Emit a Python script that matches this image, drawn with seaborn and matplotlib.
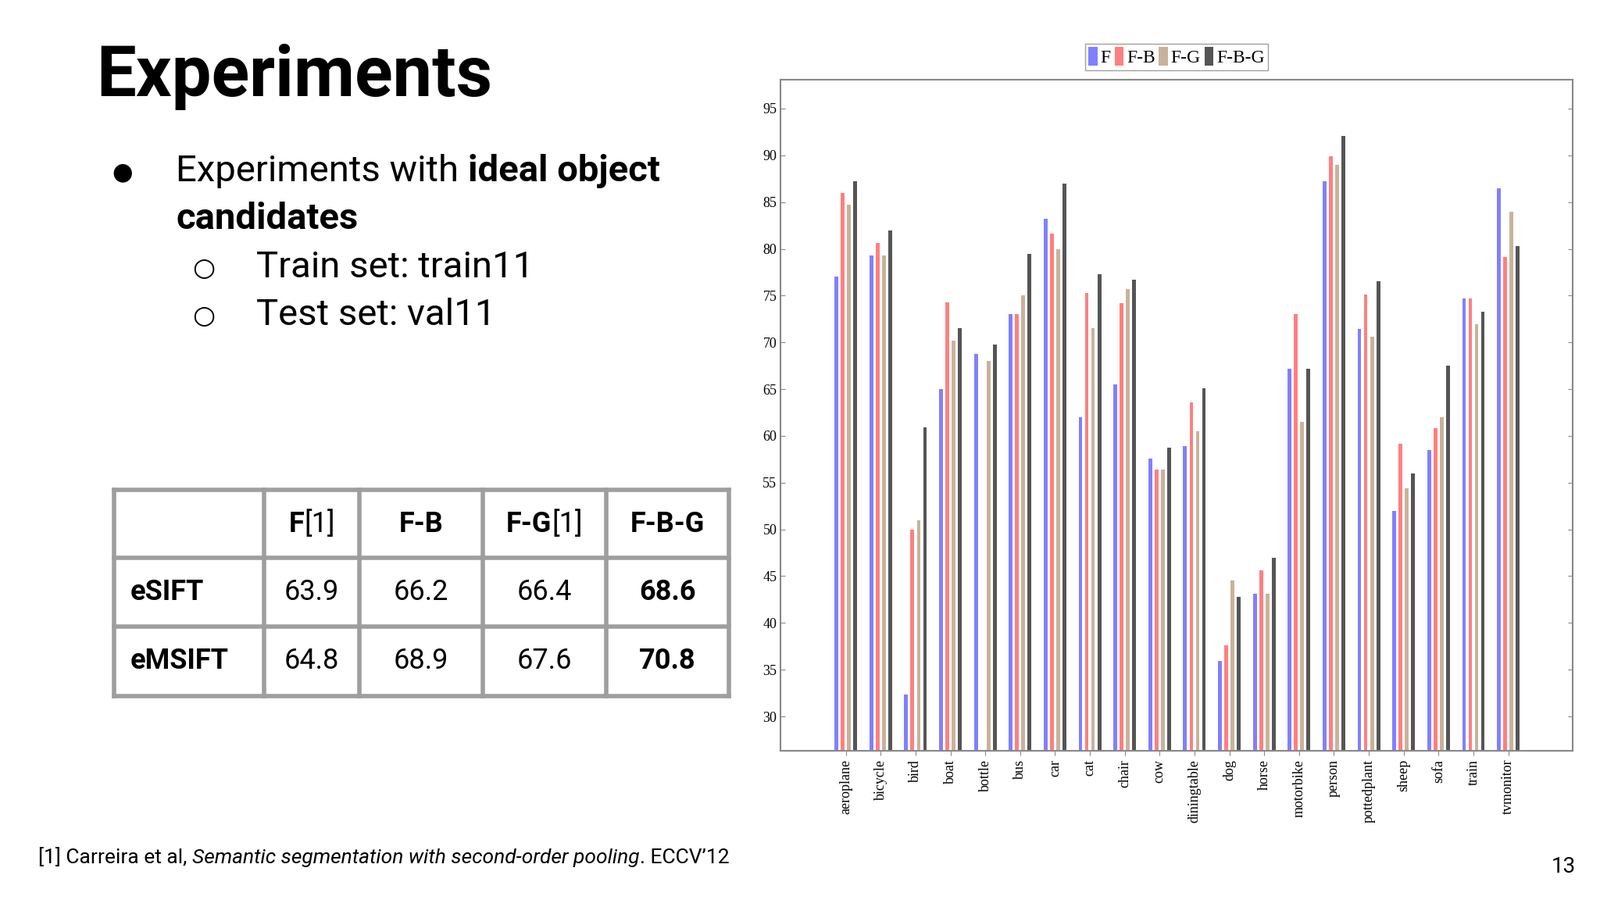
import numpy as np
import pandas as pd
import matplotlib
matplotlib.use("Agg")
import matplotlib.pyplot as plt
from matplotlib.transforms import offset_copy
import seaborn as sns

categories = ["aeroplane","bicycle","bird","boat","bottle","bus","car","cat","chair","cow",
              "diningtable","dog","horse","motorbike","person","pottedplant","sheep","sofa","train","tvmonitor"]
F   = [77.0,79.3,32.3,65.0,68.8,73.0,83.2,62.0,65.5,57.6,58.9,35.9,43.1,67.2,87.2,71.4,52.0,58.5,74.7,86.5]
FB  = [86.0,80.6,50.0,74.3,np.nan,73.0,81.6,75.3,74.2,56.4,63.6,37.6,45.6,73.0,89.9,75.1,59.2,60.8,74.7,79.1]
FG  = [84.7,79.3,51.0,70.2,68.0,75.0,80.0,71.5,75.7,56.4,60.5,44.5,43.1,61.5,89.0,70.6,54.4,62.0,71.9,84.0]
FBG = [87.2,82.0,60.9,71.5,69.8,79.5,87.0,77.3,76.7,58.7,65.1,42.8,47.0,67.2,92.1,76.5,56.0,67.5,73.3,80.3]
series = ["F","F-B","F-G","F-B-G"]
yticks = list(range(30, 100, 5))

table_cols = ["", "F[1]", "F-B", "F-G[1]", "F-B-G"]
table_rows = [["eSIFT", "63.9", "66.2", "66.4", "68.6"],
              ["eMSIFT", "64.8", "68.9", "67.6", "70.8"]]

df = pd.DataFrame({"category": categories*4,
                   "value": F+FB+FG+FBG,
                   "series": sum([[s]*len(categories) for s in series], [])})

fig = plt.figure(figsize=(20.48, 11.52), dpi=100)
fig.patch.set_facecolor("white")
renderer = fig.canvas.get_renderer()

def runs(x, y, parts, size, ha="left"):
    """Draw consecutive text runs [(text, weight, style)] starting at figure x,y."""
    texts = []
    offset = 0.0
    for txt, w, st in parts:
        tr = offset_copy(fig.transFigure, fig=fig, x=offset, y=0, units="dots")
        t = fig.text(x, y, txt, fontsize=size, family="Roboto", fontweight=w, style=st,
                     va="center", transform=tr)
        offset += t.get_window_extent(renderer).width
        texts.append(t)
    if ha == "center":
        for t in texts:
            t.set_transform(offset_copy(t.get_transform(), fig=fig, x=-offset/2, y=0, units="dots"))
    return texts

fig.text(0.060, 0.915, "Experiments", fontsize=65, fontweight="bold", family="Roboto", va="center")
fig.text(0.070, 0.808, "\u25cf", fontsize=22, family="DejaVu Sans", va="center")
runs(0.110, 0.810, [("Experiments with ", "normal", "normal"), ("ideal object", "bold", "normal")], 34)
fig.text(0.110, 0.757, "candidates", fontsize=34, family="Roboto", fontweight="bold", va="center")
fig.text(0.120, 0.702, "\u25cb", fontsize=24, family="DejaVu Sans", va="center")
fig.text(0.160, 0.703, "Train set: train11", fontsize=34, family="Roboto", va="center")
fig.text(0.120, 0.649, "\u25cb", fontsize=24, family="DejaVu Sans", va="center")
fig.text(0.160, 0.650, "Test set: val11", fontsize=34, family="Roboto", va="center")

# Table
xs = np.array([112, 259, 352, 473, 594, 714]) / 1568
ys = 1 - np.array([480, 547, 614, 682]) / 882
for x in xs:
    fig.add_artist(plt.Line2D([x, x], [ys[-1], ys[0]], color="#9e9e9e", lw=4, transform=fig.transFigure))
for y in ys:
    fig.add_artist(plt.Line2D([xs[0], xs[-1]], [y, y], color="#9e9e9e", lw=4, transform=fig.transFigure))
for r, row in enumerate([table_cols] + table_rows):
    yc = (ys[r] + ys[r+1]) / 2
    for c, txt in enumerate(row):
        xc = (xs[c] + xs[c+1]) / 2
        if c == 0:
            fig.text(xs[0] + 0.010, yc, txt, fontsize=26, family="Roboto", fontweight="bold", va="center")
        elif r == 0 and "[1]" in txt:
            runs(xc, yc, [(txt.replace("[1]", ""), "bold", "normal"), ("[1]", "normal", "normal")], 26, ha="center")
        else:
            bold = (r == 0) or c == 4
            fig.text(xc, yc, txt, fontsize=26, family="Roboto",
                     fontweight="bold" if bold else "normal", va="center", ha="center")

runs(0.024, 0.047, [("[1] Carreira et al, ", "normal", "normal"),
                    ("Semantic segmentation with second-order pooling", "normal", "italic"),
                    (". ECCV\u201912", "normal", "normal")], 19)
fig.text(0.985, 0.037, "13", fontsize=20, family="Roboto", va="center", ha="right")

# Chart
ax = fig.add_axes([765/1568, 1-736/882, (1541-765)/1568, (736-78)/882])
palette = {"F": "#8080ff", "F-B": "#ff7f7f", "F-G": "#c9b29b", "F-B-G": "#555555"}
sns.barplot(data=df, x="category", y="value", hue="series", hue_order=series,
            palette=palette, width=0.72, ax=ax, legend=True, saturation=1)
for p in ax.patches:
    w = p.get_width()
    if w > 0 and p.get_height() > 0:
        p.set_x(p.get_x() + w * 0.2)
        p.set_width(w * 0.6)
ax.set_ylim(26.3, 98.1)
ax.set_xlim(-1.87, 20.84)
ax.set_yticks(yticks)
ax.set_yticklabels([str(t) for t in yticks], fontsize=13, family="Liberation Serif")
ax.set_xticks(range(len(categories)))
ax.set_xticklabels(categories, rotation=90, fontsize=13, family="Liberation Serif")
ax.set_xlabel(""); ax.set_ylabel("")
for s in ax.spines.values():
    s.set_color("#888888"); s.set_linewidth(1.5)
ax.tick_params(axis="both", length=4, color="#888888")
ax.tick_params(axis="y", direction="in", right=True)
ax.legend(loc="lower center", bbox_to_anchor=(0.5, 1.0), ncol=4, frameon=True, fancybox=False,
          edgecolor="#888888", prop={"family": "Liberation Serif", "size": 17},
          handlelength=0.5, handleheight=1.2, handletextpad=0.15, columnspacing=0.2, borderpad=0.2)
fig.savefig("out.png", dpi=100)
